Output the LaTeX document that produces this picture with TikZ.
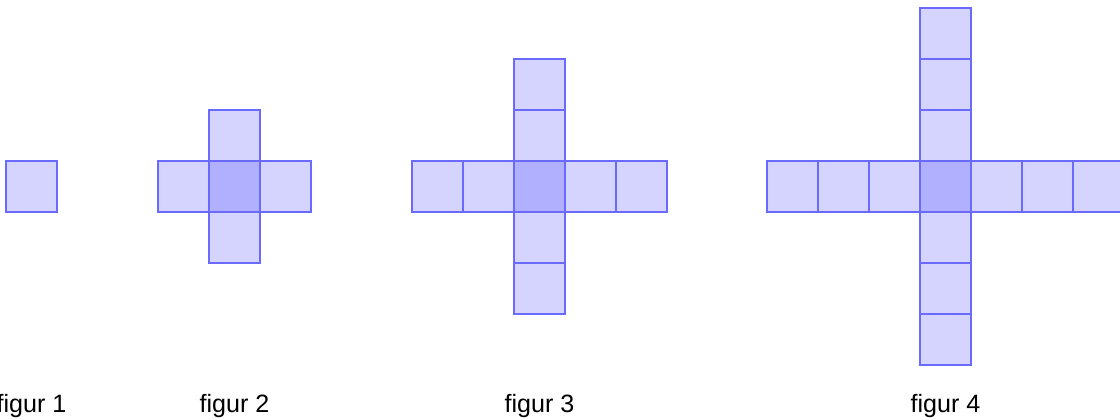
\documentclass[tikz,border=0pt]{standalone}
\usepackage{fontspec}
\setmainfont{Liberation Sans}
\usepackage{tikz}
\usetikzlibrary{positioning}
\definecolor{crossfill}{HTML}{0000FF}
\definecolor{crossedge}{HTML}{6A6AFF}

\begin{document}
\begin{tikzpicture}[
  x=1cm, y=1cm,
  armfill/.style={fill=crossfill, fill opacity=0.17},
  cellline/.style={draw=crossedge, line width=1.5pt},
  figlabel/.style={font=\fontsize{14}{16}\selectfont, anchor=base},
]
% 1 unit = one square (51px); row of the horizontal arm sits between y=0 and y=1
\useasboundingbox (0,-4.059) rectangle (21.961,4.157);
\begin{scope}
\clip (0,-4.059) rectangle (21.961,4.157);
\foreach \n/\xl/\i in {0/0.118/1, 1/4.098/2, 2/10.078/3, 3/18.039/4} {
  \pgfmathtruncatemacro{\m}{-\n}
  % fills: horizontal arm, then vertical arm (centre gets both)
  \fill[armfill] (\xl+\m,0) rectangle (\xl+\n+1,1);
  \ifnum\n>0
    \fill[armfill] (\xl,\m) rectangle (\xl+1,\n+1);
  \fi
  % cell edges
  \foreach \k in {\m,...,\n} {
    \draw[cellline] (\xl+\k,0) rectangle ++(1,1);
    \draw[cellline] (\xl,\k) rectangle ++(1,1);
  }
  \node[figlabel] (fig\i) at (\xl+0.5,-3.93) {figur \i};
}
\end{scope}
\end{tikzpicture}
\end{document}
